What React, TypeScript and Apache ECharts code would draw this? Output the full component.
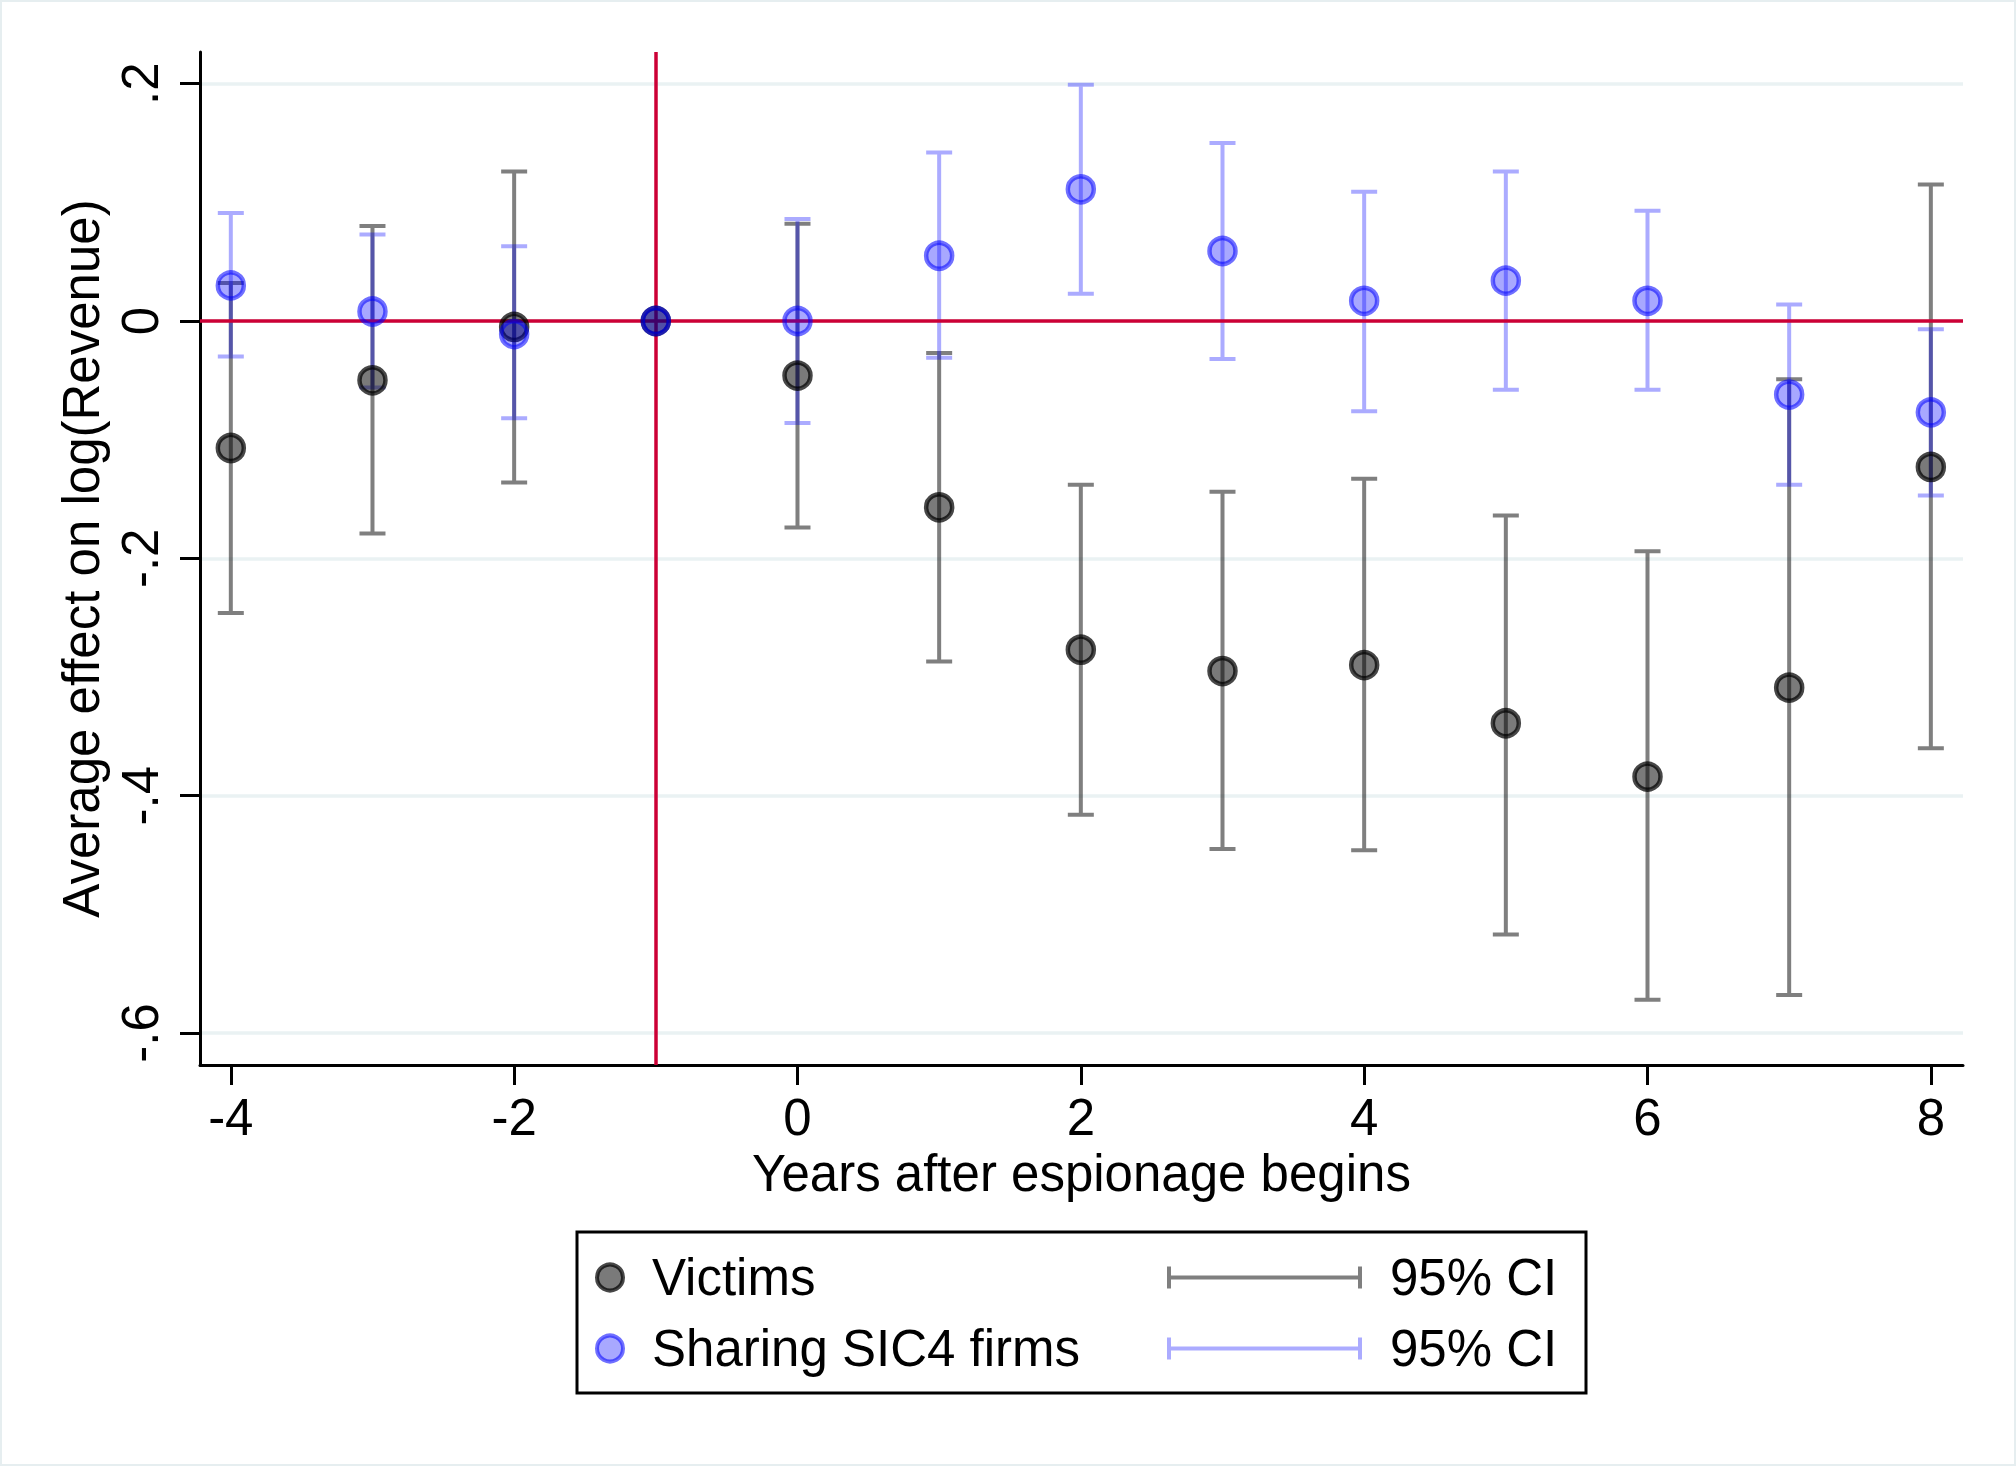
import React, { useEffect, useRef } from "react";
import * as echarts from "echarts";

// ---- data ----
const years = [-4, -3, -2, -1, 0, 1, 2, 3, 4, 5, 6, 7, 8];
const victimsEst = [-0.107, -0.05, -0.005, 0, -0.046, -0.157, -0.277, -0.295, -0.29, -0.339, -0.384, -0.309, -0.123];
const victimsLo = [-0.246, -0.179, -0.136, 0, -0.174, -0.287, -0.416, -0.445, -0.446, -0.517, -0.572, -0.568, -0.36];
const victimsHi = [0.032, 0.08, 0.126, 0, 0.082, -0.027, -0.138, -0.144, -0.133, -0.164, -0.194, -0.049, 0.115];
const sharingEst = [0.03, 0.008, -0.011, 0, 0, 0.055, 0.111, 0.059, 0.017, 0.034, 0.017, -0.062, -0.077];
const sharingLo = [-0.03, -0.056, -0.082, 0, -0.086, -0.031, 0.023, -0.032, -0.076, -0.058, -0.058, -0.138, -0.147];
const sharingHi = [0.091, 0.073, 0.063, 0, 0.086, 0.142, 0.199, 0.15, 0.109, 0.126, 0.093, 0.014, -0.007];

const xTicks = [-4, -2, 0, 2, 4, 6, 8];
const yTicks = [-0.6, -0.4, -0.2, 0, 0.2];
const yTickLabels = ["-.6", "-.4", "-.2", "0", ".2"];

const FONT = "'Liberation Sans', Arial, Helvetica, sans-serif";
const RED = "#cc0036";
const BLACK_CI = "rgba(0,0,0,0.5)";
const BLUE_CI = "rgba(0,0,255,0.33)";
const BLACK_FILL = "rgba(0,0,0,0.52)";
const BLACK_EDGE = "rgba(0,0,0,0.72)";
const BLUE_FILL = "rgba(0,0,255,0.34)";
const BLUE_EDGE = "rgba(0,0,255,0.56)";

const CI_ICON = "path://M0,0 h4 v22 h-4 Z M0,9 h195 v4 h-195 Z M191,0 h4 v22 h-4 Z";

function ciSeries(name: string, lo: number[], hi: number[], color: string) {
  return {
    type: "custom",
    name,
    z: 2,
    silent: true,
    data: years.map((y, i) => [y, lo[i], hi[i]]),
    encode: { x: 0, y: [1, 2] },
    renderItem: (_params: any, api: any) => {
      const x = api.value(0);
      const l = api.value(1);
      const h = api.value(2);
      if (l === h) return { type: "group", children: [] };
      const p1 = api.coord([x, h]);
      const p2 = api.coord([x, l]);
      const hw = 13;
      return {
        type: "path",
        shape: {
          pathData: `M${p1[0] - hw} ${p1[1]}H${p1[0] + hw}M${p1[0]} ${p1[1]}V${p2[1]}M${p2[0] - hw} ${p2[1]}H${p2[0] + hw}`,
        },
        style: { stroke: color, lineWidth: 4, fill: "none" },
      };
    },
  };
}

const legendText = { fontSize: 51, color: "#000", fontFamily: FONT, padding: [0, 0, 0, 24] };

export default function App() {
  const ref = useRef<HTMLDivElement>(null);
  useEffect(() => {
    if (!ref.current) return;
    const chart = echarts.init(ref.current, undefined, { renderer: "svg" });
    const option: any = {
      animation: false,
      backgroundColor: "#ffffff",
      grid: { left: 200, right: 53, top: 52, bottom: 401, containLabel: false },
      xAxis: {
        type: "value",
        min: -4.2175,
        max: 8.227,
        name: "Years after espionage begins",
        nameLocation: "middle",
        nameGap: 82,
        nameTextStyle: { fontSize: 51, color: "#000", fontFamily: FONT },
        axisLine: { show: true, onZero: false, lineStyle: { color: "#000", width: 3 } },
        axisTick: { show: true, customValues: xTicks, length: 20, lineStyle: { color: "#000", width: 3 } },
        axisLabel: { customValues: xTicks, margin: 27, fontSize: 51, color: "#000", fontFamily: FONT },
        splitLine: { show: false },
      },
      yAxis: {
        type: "value",
        min: -0.627,
        max: 0.2267,
        name: "Average effect on log(Revenue)",
        nameLocation: "middle",
        nameRotate: 90,
        nameGap: 89,
        nameTextStyle: { fontSize: 51, color: "#000", fontFamily: FONT },
        axisLine: { show: true, onZero: false, lineStyle: { color: "#000", width: 3 } },
        axisTick: { show: true, customValues: yTicks, length: 20, lineStyle: { color: "#000", width: 3 } },
        axisLabel: {
          customValues: yTicks,
          rotate: 90,
          margin: 34,
          fontSize: 51,
          color: "#000",
          fontFamily: FONT,
          formatter: (v: number) => {
            const i = yTicks.findIndex((t) => Math.abs(t - v) < 1e-9);
            return i >= 0 ? yTickLabels[i] : "";
          },
        },
        splitLine: { show: true, lineStyle: { color: "#eaf2f3", width: 3.5 } },
      },
      legend: [
        {
          selectedMode: false, left: 595, top: 1252, padding: 0, itemWidth: 26, itemHeight: 26,
          textStyle: legendText,
          data: [{ name: "Victims", icon: "circle", itemStyle: { color: BLACK_FILL, borderColor: BLACK_EDGE, borderWidth: 4 } }],
        },
        {
          selectedMode: false, left: 595, top: 1323, padding: 0, itemWidth: 26, itemHeight: 26,
          textStyle: legendText,
          data: [{ name: "Sharing SIC4 firms", icon: "circle", itemStyle: { color: BLUE_FILL, borderColor: BLUE_EDGE, borderWidth: 4 } }],
        },
        {
          selectedMode: false, left: 1167, top: 1252, padding: 0, itemWidth: 195, itemHeight: 22,
          textStyle: { ...legendText, padding: [0, 0, 0, 23] },
          formatter: "95% CI",
          data: [{ name: "Victims 95% CI", icon: CI_ICON, itemStyle: { color: BLACK_CI, borderWidth: 0 } }],
        },
        {
          selectedMode: false, left: 1167, top: 1323, padding: 0, itemWidth: 195, itemHeight: 22,
          textStyle: { ...legendText, padding: [0, 0, 0, 23] },
          formatter: "95% CI",
          data: [{ name: "Sharing SIC4 firms 95% CI", icon: CI_ICON, itemStyle: { color: BLUE_CI, borderWidth: 0 } }],
        },
      ],
      graphic: [
        { type: "rect", z: -10, silent: true, shape: { x: 1, y: 1, width: 2014, height: 1464 }, style: { fill: "none", stroke: "#e6eef0", lineWidth: 2 } },
        { type: "rect", z: 0, silent: true, shape: { x: 577, y: 1232, width: 1009, height: 161 }, style: { fill: "none", stroke: "#000", lineWidth: 3 } },
      ],
      series: [
        ciSeries("Victims 95% CI", victimsLo, victimsHi, BLACK_CI),
        ciSeries("Sharing SIC4 firms 95% CI", sharingLo, sharingHi, BLUE_CI),
        {
          type: "line",
          name: "ref",
          data: [],
          silent: true,
          z: 3,
          markLine: {
            silent: true,
            z: 3,
            symbol: ["none", "none"],
            label: { show: false },
            lineStyle: { color: RED, width: 3.5, type: "solid" },
            emphasis: { disabled: true },
            data: [{ xAxis: -1 }, { yAxis: 0 }],
          },
        },
        {
          type: "scatter",
          name: "Victims",
          z: 4,
          silent: true,
          symbol: "circle",
          symbolSize: 26,
          data: years.map((y, i) => [y, victimsEst[i]]),
          itemStyle: { color: BLACK_FILL, borderColor: BLACK_EDGE, borderWidth: 4.5, opacity: 1 },
        },
        {
          type: "scatter",
          name: "Sharing SIC4 firms",
          z: 4,
          silent: true,
          symbol: "circle",
          symbolSize: 26,
          data: years.map((y, i) => [y, sharingEst[i]]),
          itemStyle: { color: BLUE_FILL, borderColor: BLUE_EDGE, borderWidth: 4.5, opacity: 1 },
        },
      ],
    };
    chart.setOption(option);
    return () => chart.dispose();
  }, []);
  return <div ref={ref} style={{ position: "absolute", left: 0, top: 0, width: 2016, height: 1466 }} />;
}
